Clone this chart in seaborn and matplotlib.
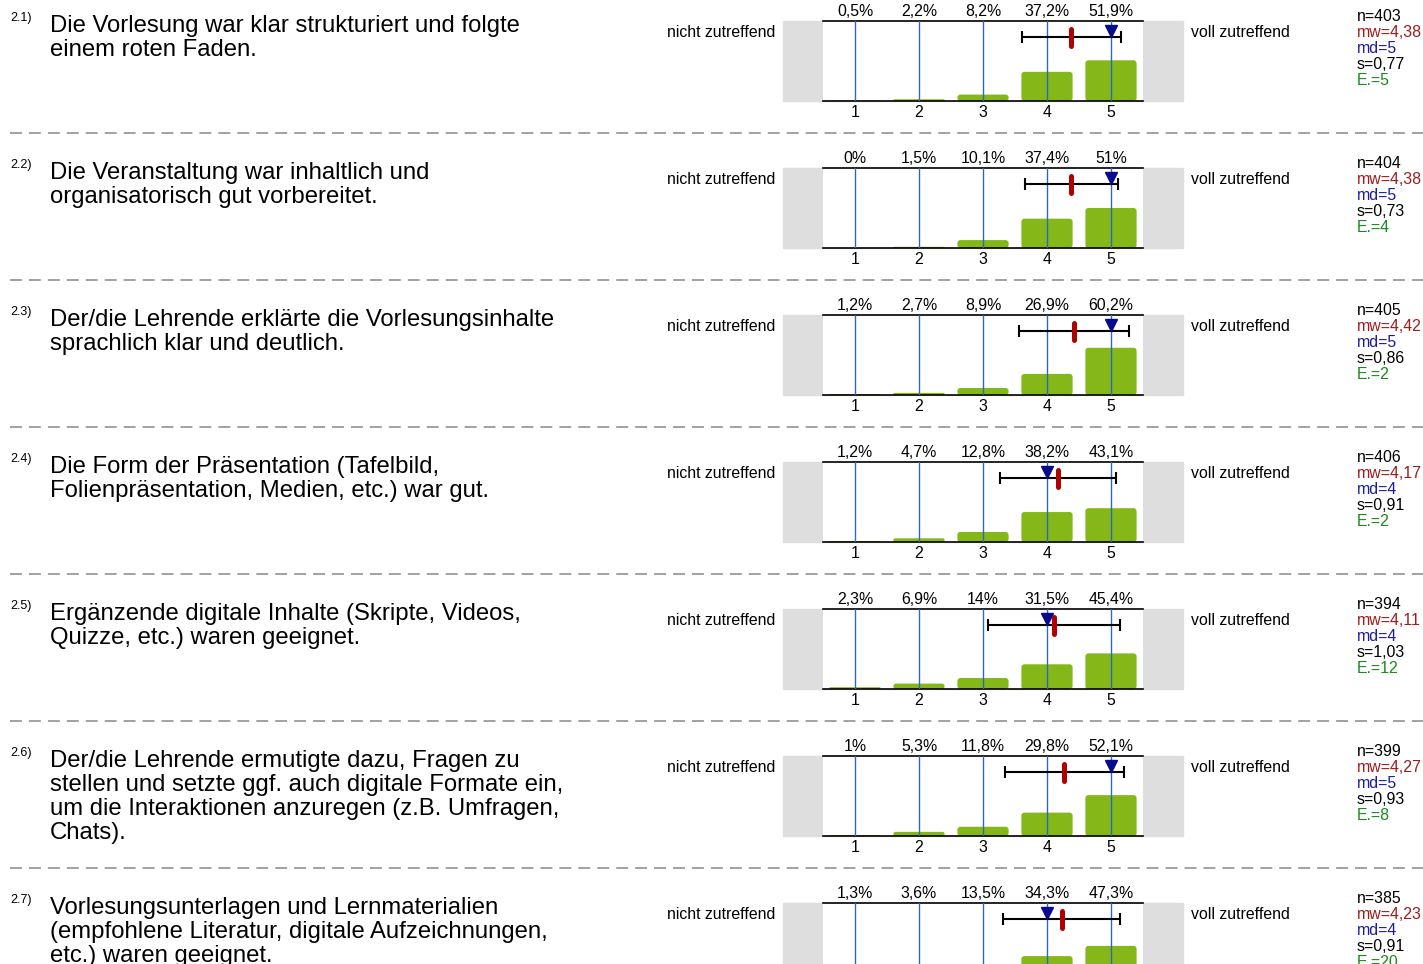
import numpy as np
import pandas as pd
import matplotlib
matplotlib.use("Agg")
import matplotlib.pyplot as plt
from matplotlib.patches import Rectangle, FancyBboxPatch
from matplotlib.lines import Line2D
import seaborn as sns

# ── data ─────────────────────────────────────────────────────────────────────
nummern = ["2.1)", "2.2)", "2.3)", "2.4)", "2.5)", "2.6)", "2.7)"]
fragen = [
    "Die Vorlesung war klar strukturiert und folgte\neinem roten Faden.",
    "Die Veranstaltung war inhaltlich und\norganisatorisch gut vorbereitet.",
    "Der/die Lehrende erklärte die Vorlesungsinhalte\nsprachlich klar und deutlich.",
    "Die Form der Präsentation (Tafelbild,\nFolienpräsentation, Medien, etc.) war gut.",
    "Ergänzende digitale Inhalte (Skripte, Videos,\nQuizze, etc.) waren geeignet.",
    "Der/die Lehrende ermutigte dazu, Fragen zu\nstellen und setzte ggf. auch digitale Formate ein,\num die Interaktionen anzuregen (z.B. Umfragen,\nChats).",
    "Vorlesungsunterlagen und Lernmaterialien\n(empfohlene Literatur, digitale Aufzeichnungen,\netc.) waren geeignet.",
]
antworten = ["1", "2", "3", "4", "5"]
prozente = [
    [0.5, 2.2, 8.2, 37.2, 51.9],
    [0.0, 1.5, 10.1, 37.4, 51.0],
    [1.2, 2.7, 8.9, 26.9, 60.2],
    [1.2, 4.7, 12.8, 38.2, 43.1],
    [2.3, 6.9, 14.0, 31.5, 45.4],
    [1.0, 5.3, 11.8, 29.8, 52.1],
    [1.3, 3.6, 13.5, 34.3, 47.3],
]
n_werte = [403, 404, 405, 406, 394, 399, 385]
mittelwerte = [4.38, 4.38, 4.42, 4.17, 4.11, 4.27, 4.23]
mediane = [5, 5, 5, 4, 4, 5, 4]
streuungen = [0.77, 0.73, 0.86, 0.91, 1.03, 0.93, 0.91]
enthaltungen = [5, 4, 2, 2, 12, 8, 20]

# ── style ────────────────────────────────────────────────────────────────────
sns.set_style("white")
plt.rcParams["font.family"] = ["Liberation Sans", "DejaVu Sans"]
plt.rcParams["text.color"] = "black"
plt.rcParams["xtick.color"] = "black"
plt.rcParams["xtick.labelcolor"] = "black"

W, H = 1423, 964
ROW = 147
GREEN = "#84b819"
GREY = "#dedede"
BLUE_LINE = "#2e68b8"
RED = "#b00000"
NAVY = "#0a0a8c"
SMALL = 11.4


def fx(px):
    return px / W


def fy(py):
    return 1 - py / H


def de(v):
    s = f"{v:.1f}".rstrip("0").rstrip(".")
    return s.replace(".", ",")


fig = plt.figure(figsize=(W / 100, H / 100), dpi=100)

YMAX = 102
for i in range(len(fragen)):
    T = ROW * i

    # question number + text
    fig.text(fx(10), fy(T + 21), nummern[i], fontsize=9, va="baseline", ha="left")
    for k, line in enumerate(fragen[i].split("\n")):
        fig.text(fx(50), fy(T + 32 + 24 * k), line, fontsize=17.2, va="baseline", ha="left")

    fig.text(fx(775), fy(T + 37), "nicht zutreffend", fontsize=SMALL, ha="right", va="baseline")
    fig.text(fx(1191), fy(T + 37), "voll zutreffend", fontsize=SMALL, ha="left", va="baseline")

    # grey frame behind the panel
    fig.add_artist(Rectangle((fx(783), fy(T + 101)), 400 / W, 80 / H,
                             transform=fig.transFigure, color=GREY, zorder=-1))

    ax = fig.add_axes([fx(823), fy(T + 101), 320 / W, 80 / H])
    df = pd.DataFrame({"antwort": antworten, "prozent": prozente[i]})
    sns.barplot(data=df, x="antwort", y="prozent", color=GREEN, saturation=1,
                width=0.8, ax=ax, zorder=2)
    ax.set_xlim(-0.5, 4.5)
    ax.set_ylim(0, YMAX)

    # rounded bar corners
    aspect = (YMAX / 80) / (5 / 320)
    for p in list(ax.patches):
        x0, y0, w, h = p.get_x(), p.get_y(), p.get_width(), p.get_height()
        p.remove()
        if h <= 0:
            continue
        r = min(3 * 5 / 320, w / 2, h / aspect / 2)
        ax.add_patch(FancyBboxPatch((x0, y0), w, h,
                                    boxstyle=f"round,pad=0,rounding_size={r}",
                                    mutation_aspect=aspect, fc=GREEN, ec="none", zorder=2))

    for j in range(5):
        ax.axvline(j, color=BLUE_LINE, lw=1, zorder=3)
        ax.annotate(de(prozente[i][j]) + "%", xy=(j, 1), xycoords=("data", "axes fraction"),
                    xytext=(0, 3.6), textcoords="offset points", ha="center",
                    va="baseline", fontsize=SMALL)

    mw = mittelwerte[i] - 1
    ax.errorbar(mw, 81.6, xerr=streuungen[i], fmt="none", ecolor="black",
                elinewidth=1.5, capsize=4, capthick=1.5, zorder=4)
    ax.plot([mw, mw], [69.5, 92.4], color=RED, lw=3.6, solid_capstyle="round", zorder=5)
    ax.plot([mediane[i] - 1], [89.3], marker="v", color=NAVY, markersize=8, ls="none", zorder=6)

    ax.set_xlabel("")
    ax.set_ylabel("")
    ax.set_yticks([])
    ax.tick_params(axis="x", length=0, pad=3, labelsize=SMALL, labelcolor="black")
    for side in ["left", "right"]:
        ax.spines[side].set_visible(False)
    for side in ["top", "bottom"]:
        ax.spines[side].set_visible(True)
        ax.spines[side].set_color("black")
        ax.spines[side].set_linewidth(1.2)
    ax.set_facecolor("white")

    # stats block
    stats = [(f"n={n_werte[i]}", "black"),
             (f"mw={mittelwerte[i]:.2f}".replace(".", ","), "#a01c1c"),
             (f"md={mediane[i]}", "#1c1ca0"),
             (f"s={streuungen[i]:.2f}".replace(".", ","), "black"),
             (f"E.={enthaltungen[i]}", "#1a8a1a")]
    for k, (txt, col) in enumerate(stats):
        fig.text(fx(1357), fy(T + 21 + 16 * k), txt, fontsize=SMALL, color=col,
                 ha="left", va="baseline")

    # dashed separator
    if i < len(fragen) - 1:
        fig.add_artist(Line2D([fx(10), fx(1423)], [fy(T + 133), fy(T + 133)],
                              transform=fig.transFigure, color="#888888", lw=1.1,
                              ls=(0, (7.8, 4.6))))

fig.savefig("out.png", dpi=100)
